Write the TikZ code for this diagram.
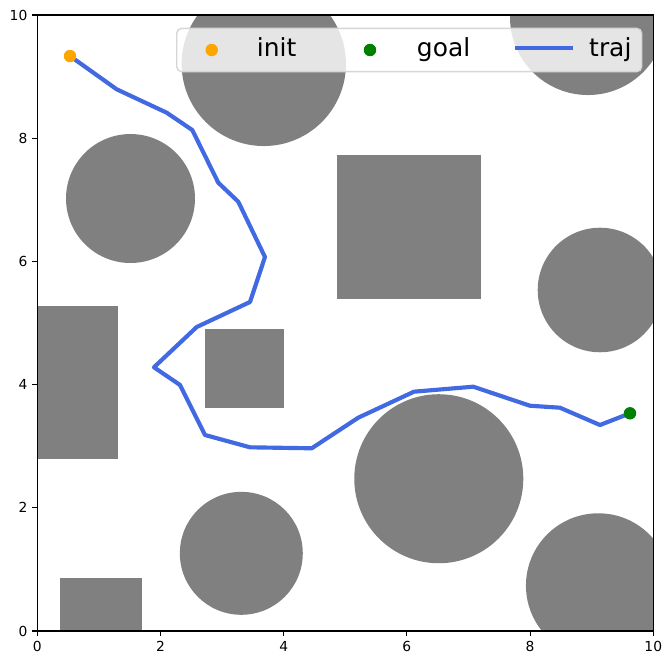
\documentclass[tikz,border=0pt]{standalone}
\usepackage{fontspec}
\setmainfont{DejaVu Sans}
\definecolor{obst}{HTML}{808080}
\definecolor{trajc}{HTML}{4169E1}
\definecolor{initc}{HTML}{FFA500}
\definecolor{goalc}{HTML}{008000}
\definecolor{legedge}{HTML}{D6D6D6}
\tikzset{
  obstacle/.style={fill=obst},
  trajline/.style={draw=trajc, line width=3pt, line join=round, line cap=rect},
  marker/.style={circle, inner sep=0pt, minimum size=9pt},
  tickline/.style={line width=0.8pt},
  ticklabel/.style={font=\fontsize{10}{12}\selectfont, inner sep=0pt},
  legendtext/.style={font=\fontsize{18}{21.6}\selectfont, inner sep=0pt, anchor=base west},
}
\begin{document}
\begin{tikzpicture}[x=1.56464cm, y=1.56464cm]
\useasboundingbox (-0.6055,-0.552) rectangle (10.304,10.244);
% obstacles
\begin{scope}
  \clip (0,0) rectangle (10,10);
  \fill[obstacle] (3.677,9.207) circle[radius=1.334];
  \fill[obstacle] (8.94,9.967) circle[radius=1.266];
  \fill[obstacle] (1.513,7.021) circle[radius=1.047];
  \fill[obstacle] (9.135,5.536) circle[radius=1.011];
  \fill[obstacle] (9.107,0.737) circle[radius=1.174];
  \fill[obstacle] (6.518,2.472) circle[radius=1.372];
  \fill[obstacle] (3.312,1.261) circle[radius=0.998];
  \fill[obstacle] (4.860,5.394) rectangle (7.203,7.727);
  \fill[obstacle] (-0.3,2.792) rectangle (1.310,5.281);
  \fill[obstacle] (2.722,3.625) rectangle (4.006,4.903);
  \fill[obstacle] (0.368,-0.3) rectangle (1.700,0.865);
\end{scope}
% trajectory
\coordinate (init) at (0.531,9.334);
\coordinate (goal) at (9.622,3.534);
\draw[trajline] (init) -- (1.289,8.794) -- (2.101,8.414) -- (2.516,8.133)
  -- (2.938,7.278) -- (3.263,6.969) -- (3.696,6.071) -- (3.453,5.341)
  -- (2.588,4.935) -- (1.894,4.281) -- (2.317,3.994) -- (2.722,3.182)
  -- (3.453,2.982) -- (4.455,2.966) -- (5.211,3.463) -- (6.115,3.885)
  -- (7.078,3.966) -- (7.998,3.657) -- (8.485,3.625) -- (9.135,3.344)
  -- (goal);
\node[marker, fill=initc] (initdot) at (init) {};
\node[marker, fill=goalc] (goaldot) at (goal) {};
% axes
\draw[tickline] (0,0) rectangle (10,10);
\foreach \v in {0,2,4,6,8,10} {
  \draw[tickline] (\v,0) -- ++(0,-3.5pt);
  \node[ticklabel, anchor=north] (xl\v) at ([yshift=-7pt]\v,0) {\v};
  \draw[tickline] (0,\v) -- ++(-3.5pt,0);
  \node[ticklabel, anchor=east] (yl\v) at ([xshift=-7pt]0,\v) {\v};
}
% legend
\draw[draw=legedge, line width=1pt, fill=white, fill opacity=0.8, rounded corners=3.6pt]
  (2.263,9.080) rectangle (9.812,9.784);
\node[marker, fill=initc] (leginit) at (2.831,9.432) {};
\node[legendtext] (tinit) at (3.562,9.323) {init};
\node[marker, fill=goalc] (leggoal) at (5.401,9.432) {};
\node[legendtext] (tgoal) at (6.159,9.323) {goal};
\coordinate (la) at (7.782,9.464);
\coordinate (lb) at (8.664,9.464);
\draw[trajline] (la) -- (lb);
\node[legendtext] (ttraj) at (8.956,9.323) {traj};
\end{tikzpicture}
\end{document}
